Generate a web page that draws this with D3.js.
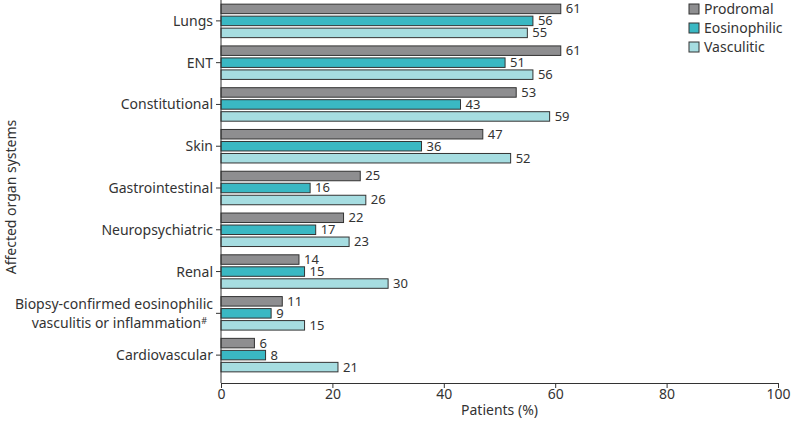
<!DOCTYPE html>
<html><head><meta charset="utf-8">
<script src="https://cdn.jsdelivr.net/npm/d3@7"></script>
<style>body{margin:0;background:#fff;} svg{display:block;font-family:"Noto Sans",sans-serif;}</style>
</head><body><svg id="c" width="797" height="423"></svg>
<script>
const categories = ["Lungs","ENT","Constitutional","Skin","Gastrointestinal","Neuropsychiatric","Renal","Biopsy","Cardiovascular"];
const prodromal   = [61,61,53,47,25,22,14,11,6];
const eosinophilic= [56,51,43,36,16,17,15,9,8];
const vasculitic  = [55,56,59,52,26,23,30,15,21];
const seriesNames = ["Prodromal","Eosinophilic","Vasculitic"];
const xTicks = [0,20,40,60,80,100];

(function(){
const colors = ["#8e8e90","#3ab8c3","#a6dde1"];
const series = [prodromal, eosinophilic, vasculitic];
const svg = d3.select("#c");
const left = 221, right = 778, axisY = 383;
const x = d3.scaleLinear().domain([0,100]).range([left,right]);
const y = d3.scaleBand().domain(categories).range([0,376]);
const barH = 9.5, off = 12;
const textColor = "#333";
const fs = 14;

series.forEach((vals,si)=>{
  svg.append("g").selectAll("rect").data(categories).join("rect")
    .attr("x", x(0))
    .attr("y", (d,i)=> y(d)+y.bandwidth()/2 + (si-1)*off - barH/2)
    .attr("width", (d,i)=> x(vals[i])-x(0))
    .attr("height", barH)
    .attr("fill", colors[si])
    .attr("stroke","#333").attr("stroke-width",1);
  svg.append("g").selectAll("text").data(categories).join("text")
    .attr("x", (d,i)=> x(vals[i])+5)
    .attr("y", (d,i)=> y(d)+y.bandwidth()/2 + (si-1)*off)
    .attr("dy","0.34em")
    .attr("font-size",13).attr("fill",textColor)
    .text((d,i)=>vals[i]);
});

const xa = svg.append("g").attr("transform",`translate(0,${axisY})`)
  .call(d3.axisBottom(x).tickValues(xTicks).tickSize(5).tickPadding(1).tickSizeOuter(0));
xa.select(".domain").attr("stroke","#333");
xa.selectAll(".tick line").attr("stroke","#333");
xa.selectAll("text").attr("font-size",fs).attr("fill",textColor).attr("font-family","Noto Sans");

svg.append("line").attr("x1",left).attr("x2",left).attr("y1",0).attr("y2",axisY).attr("stroke","#333");
const ya = svg.append("g").attr("transform",`translate(${left},0)`)
  .call(d3.axisLeft(y).tickSize(5).tickSizeOuter(0).tickFormat(""));
ya.select(".domain").remove();
ya.selectAll(".tick line").attr("stroke","#333");

const labelMap = {
  "Lungs":["Lungs"],"ENT":["ENT"],"Constitutional":["Constitutional"],"Skin":["Skin"],
  "Gastrointestinal":["Gastrointestinal"],"Neuropsychiatric":["Neuropsychiatric"],"Renal":["Renal"],
  "Biopsy":["Biopsy-confirmed eosinophilic","vasculitis or inflammation"],"Cardiovascular":["Cardiovascular"]
};
categories.forEach(c=>{
  const lines = labelMap[c];
  const cy = y(c)+y.bandwidth()/2;
  lines.forEach((ln,li)=>{
    const t = svg.append("text").attr("x",left-8)
      .attr("y", cy + (li-(lines.length-1)/2)*19)
      .attr("dy","0.36em").attr("text-anchor","end")
      .attr("font-size",fs).attr("fill",textColor);
    if(c==="Biopsy" && li===1){
      t.attr("x",left-14);
      t.text(ln);
      t.append("tspan").attr("font-size",9).attr("dy","-0.45em").text("#");
    } else t.text(ln);
  });
});

svg.append("text").attr("x",(left+right)/2).attr("y",415).attr("text-anchor","middle")
  .attr("font-size",fs).attr("fill",textColor).text("Patients (%)");
svg.append("text").attr("transform","translate(16,197) rotate(-90)").attr("text-anchor","middle")
  .attr("font-size",fs).attr("fill",textColor).text("Affected organ systems");

seriesNames.forEach((n,i)=>{
  const ly = 9 + i*19;
  svg.append("rect").attr("x",689).attr("y",ly-5).attr("width",10).attr("height",10)
    .attr("fill",colors[i]).attr("stroke","#333");
  svg.append("text").attr("x",704).attr("y",ly).attr("dy","0.36em")
    .attr("font-size",fs).attr("fill",textColor).text(n);
});
})();
</script></body></html>
